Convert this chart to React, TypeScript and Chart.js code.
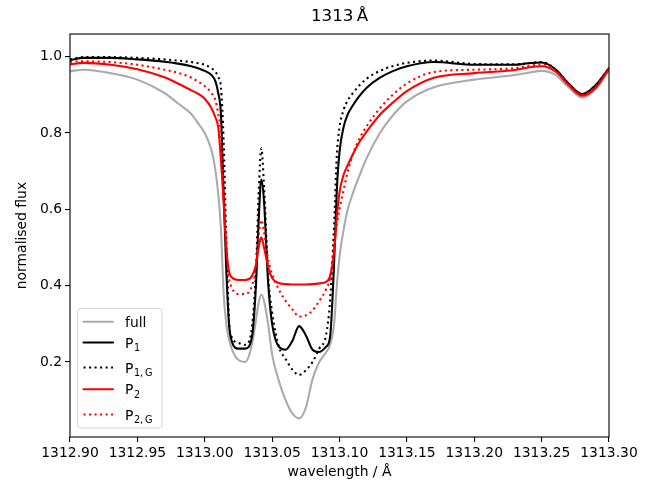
import React, { useEffect, useRef } from "react";
import { Chart, registerables } from "chart.js";

Chart.register(...registerables);

// wavelength grid (Å)
const wavelengths = [
  1312.9, 1312.91, 1312.93, 1312.95, 1312.97, 1312.98, 1312.99, 1312.995,
  1313.0, 1313.005, 1313.008, 1313.01, 1313.012, 1313.014, 1313.016, 1313.018,
  1313.02, 1313.025, 1313.03, 1313.035, 1313.038, 1313.04, 1313.042, 1313.044,
  1313.047, 1313.05, 1313.055, 1313.06, 1313.065, 1313.07, 1313.075, 1313.08,
  1313.085, 1313.09, 1313.093, 1313.096, 1313.098, 1313.1, 1313.103, 1313.106,
  1313.11, 1313.115, 1313.12, 1313.13, 1313.14, 1313.15, 1313.17, 1313.2,
  1313.23, 1313.24, 1313.25, 1313.26, 1313.27, 1313.28, 1313.29, 1313.3,
];

const fullFlux = [
  0.962, 0.966, 0.957, 0.94, 0.905, 0.878, 0.85, 0.826,
  0.8, 0.755, 0.7, 0.64, 0.55, 0.38, 0.3, 0.26,
  0.235, 0.205, 0.2, 0.245, 0.31, 0.355, 0.377, 0.36,
  0.3, 0.22, 0.15, 0.1, 0.065, 0.052, 0.08, 0.155,
  0.2, 0.225, 0.245, 0.3, 0.4, 0.475, 0.545, 0.598,
  0.643, 0.69, 0.733, 0.8, 0.848, 0.883, 0.92, 0.94,
  0.952, 0.958, 0.963, 0.953, 0.92, 0.893, 0.915, 0.965,
];

const p1Flux = [
  0.991, 0.997, 0.997, 0.993, 0.987, 0.982, 0.975, 0.97,
  0.963, 0.952, 0.935, 0.905, 0.85, 0.64, 0.44, 0.3,
  0.255, 0.235, 0.235, 0.265, 0.4, 0.57, 0.678, 0.62,
  0.41, 0.3, 0.24, 0.232, 0.255, 0.294, 0.27, 0.232,
  0.226, 0.24, 0.265, 0.46, 0.65, 0.75, 0.815, 0.848,
  0.873, 0.898, 0.918, 0.945, 0.963, 0.975, 0.986, 0.979,
  0.979, 0.983, 0.985, 0.968, 0.93, 0.902, 0.925, 0.97,
];

const p1gFlux = [
  0.993, 0.999, 0.999, 0.997, 0.993, 0.99, 0.986, 0.983,
  0.979, 0.97, 0.96, 0.947, 0.92, 0.78, 0.52, 0.31,
  0.265, 0.25, 0.245, 0.29, 0.44, 0.64, 0.76, 0.66,
  0.43, 0.33, 0.24, 0.208, 0.18, 0.166, 0.178, 0.2,
  0.235, 0.27, 0.36, 0.56, 0.74, 0.815, 0.86, 0.885,
  0.905, 0.926, 0.942, 0.963, 0.976, 0.984, 0.99, 0.981,
  0.98, 0.983, 0.986, 0.968, 0.93, 0.902, 0.925, 0.97,
];

const p2Flux = [
  0.98, 0.984, 0.979, 0.967, 0.946, 0.93, 0.912, 0.903,
  0.89, 0.865, 0.84, 0.815, 0.73, 0.62, 0.5, 0.437,
  0.422, 0.415, 0.415, 0.425, 0.455, 0.5, 0.527, 0.5,
  0.45, 0.42, 0.407, 0.404, 0.403, 0.403, 0.403, 0.404,
  0.406, 0.41, 0.425, 0.49, 0.58, 0.645, 0.69, 0.715,
  0.745, 0.778, 0.803, 0.848, 0.881, 0.91, 0.945, 0.957,
  0.965, 0.972, 0.975, 0.962, 0.926, 0.898, 0.918, 0.968,
];

const p2gFlux = [
  0.987, 0.988, 0.986, 0.979, 0.966, 0.958, 0.945, 0.935,
  0.923, 0.905, 0.885, 0.85, 0.8, 0.65, 0.49, 0.42,
  0.395, 0.378, 0.378, 0.4, 0.45, 0.53, 0.572, 0.54,
  0.47, 0.43, 0.39, 0.36, 0.338, 0.319, 0.322, 0.335,
  0.36, 0.39, 0.42, 0.5, 0.56, 0.6, 0.65, 0.697,
  0.745, 0.787, 0.817, 0.865, 0.902, 0.93, 0.96, 0.966,
  0.97, 0.976, 0.98, 0.965, 0.928, 0.9, 0.921, 0.97,
];

const xTicks = [1312.9, 1312.95, 1313.0, 1313.05, 1313.1, 1313.15, 1313.2, 1313.25, 1313.3];
const yTicks = [0.2, 0.4, 0.6, 0.8, 1.0];

const titleText = "1313\u2009Å";
const xLabel = "wavelength / Å";
const yLabel = "normalised flux";

// legend entries: main text + subscript
const legendMain = ["full", "P", "P", "P", "P"];
const legendSub = ["", "1", "1,\u2009G", "2", "2,\u2009G"];

const FONT = "'DejaVu Sans', 'Liberation Sans', sans-serif";

export default function App() {
  const ref = useRef<HTMLCanvasElement | null>(null);

  useEffect(() => {
    const canvas = ref.current;
    if (!canvas) return;

    const seriesList = [fullFlux, p1Flux, p1gFlux, p2Flux, p2gFlux];
    const colors = ["#aaaaaa", "#000000", "#000000", "#ff0000", "#ff0000"];
    const dashed = [false, false, true, false, true];
    const dotPattern = [2.08, 3.44];

    const datasets = seriesList.map((s, i) => ({
      label: legendMain[i] + legendSub[i],
      data: wavelengths.map((w, j) => ({ x: w, y: s[j] })),
      borderColor: colors[i],
      backgroundColor: colors[i],
      borderWidth: 2.08,
      borderDash: dashed[i] ? dotPattern : [],
      borderCapStyle: dashed[i] ? "butt" : "round",
      borderJoinStyle: "round",
      pointRadius: 0,
      fill: false,
      cubicInterpolationMode: "monotone",
      order: 5 - i,
    }));

    const framePlugin = {
      id: "frame",
      afterDatasetsDraw(chart: any) {
        const { ctx, chartArea } = chart;
        ctx.save();
        ctx.strokeStyle = "#000";
        ctx.lineWidth = 1.1;
        ctx.strokeRect(chartArea.left, chartArea.top, chartArea.right - chartArea.left, chartArea.bottom - chartArea.top);
        ctx.restore();
      },
    };

    const legendPlugin = {
      id: "mplLegend",
      afterDraw(chart: any) {
        const { ctx, chartArea } = chart;
        const left = chartArea.left + 7.5;
        const top = chartArea.bottom - 128.5;
        const w = 84.5;
        const h = 119.5;
        ctx.save();
        ctx.beginPath();
        if ((ctx as any).roundRect) (ctx as any).roundRect(left, top, w, h, 3);
        else ctx.rect(left, top, w, h);
        ctx.fillStyle = "rgba(255,255,255,0.8)";
        ctx.fill();
        ctx.strokeStyle = "rgba(204,204,204,0.8)";
        ctx.lineWidth = 1;
        ctx.stroke();

        const rowY = [321.7, 342.5, 367.5, 389.3, 414.5];
        for (let i = 0; i < 5; i++) {
          const y = rowY[i];
          ctx.beginPath();
          ctx.strokeStyle = colors[i];
          ctx.lineWidth = 2.08;
          ctx.setLineDash(dashed[i] ? dotPattern : []);
          ctx.lineCap = dashed[i] ? "butt" : "round";
          ctx.moveTo(83.5, y);
          ctx.lineTo(113, y);
          ctx.stroke();
          ctx.setLineDash([]);
          ctx.fillStyle = "#000";
          ctx.textBaseline = "alphabetic";
          ctx.textAlign = "left";
          ctx.font = `13.9px ${FONT}`;
          const tx = 125;
          ctx.fillText(legendMain[i], tx, y + 5);
          if (legendSub[i]) {
            const mw = ctx.measureText(legendMain[i]).width;
            ctx.font = `9.7px ${FONT}`;
            ctx.fillText(legendSub[i], tx + mw + 0.5, y + 8.5);
          }
        }
        ctx.restore();
      },
    };

    const chart = new Chart(canvas, {
      type: "line",
      data: { datasets: datasets as any },
      options: {
        responsive: false,
        animation: false,
        devicePixelRatio: 1,
        layout: { padding: { left: 0, right: 53, top: 0, bottom: 0 } },
        plugins: {
          legend: { display: false },
          tooltip: { enabled: false },
          title: {
            display: true,
            text: titleText,
            fullSize: false,
            color: "#000",
            font: { family: FONT, size: 16.7, weight: "normal" },
            padding: { top: 7, bottom: 7 },
          },
        },
        scales: {
          x: {
            type: "linear",
            min: 1312.9,
            max: 1313.3,
            border: { display: false },
            grid: {
              display: true,
              drawOnChartArea: false,
              drawTicks: true,
              tickLength: 5,
              color: "#000",
              lineWidth: 1.1,
            },
            afterBuildTicks(scale: any) {
              scale.ticks = xTicks.map((v) => ({ value: v }));
            },
            afterFit(scale: any) {
              scale.height = 55;
            },
            ticks: {
              autoSkip: false,
              maxRotation: 0,
              minRotation: 0,
              padding: 3,
              color: "#000",
              font: { family: FONT, size: 13.9 },
              callback: (v: any) => Number(v).toFixed(2),
            },
            title: {
              display: true,
              text: xLabel,
              color: "#000",
              font: { family: FONT, size: 13.9 },
              padding: { top: 0, bottom: 11 },
            },
          },
          y: {
            type: "linear",
            min: 0.0033,
            max: 1.0595,
            border: { display: false },
            grid: {
              display: true,
              drawOnChartArea: false,
              drawTicks: true,
              tickLength: 5,
              color: "#000",
              lineWidth: 1.1,
            },
            afterBuildTicks(scale: any) {
              scale.ticks = yTicks.map((v) => ({ value: v }));
            },
            afterFit(scale: any) {
              scale.width = 70;
            },
            ticks: {
              autoSkip: false,
              padding: 3,
              color: "#000",
              font: { family: FONT, size: 13.9 },
              callback: (v: any) => Number(v).toFixed(1),
            },
            title: {
              display: true,
              text: yLabel,
              color: "#000",
              font: { family: FONT, size: 13.9 },
              padding: { top: 14, bottom: 0 },
            },
          },
        },
      },
      plugins: [framePlugin, legendPlugin],
    });

    return () => chart.destroy();
  }, []);

  return (
    <div style={{ position: "absolute", left: 0, top: 0, width: 662, height: 492, background: "#fff" }}>
      <canvas ref={ref} width={662} height={492} style={{ display: "block", width: 662, height: 492 }} />
    </div>
  );
}
